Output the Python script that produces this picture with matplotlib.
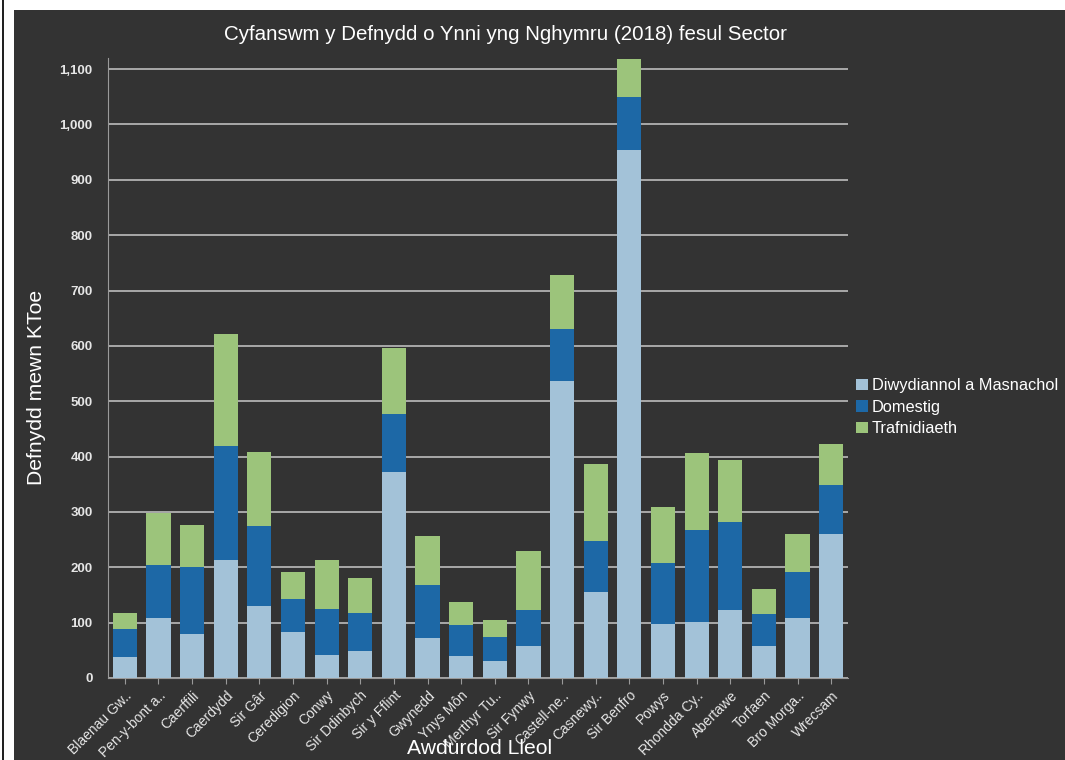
import matplotlib
matplotlib.use("Agg")
from matplotlib import pyplot as plt
from matplotlib.patches import Rectangle
from matplotlib.ticker import FuncFormatter, MultipleLocator

# Awdurdodau lleol (x-axis labels, truncated as in the original)
areas = ["Blaenau Gw..", "Pen-y-bont a..", "Caerffili", "Caerdydd", "Sir Gâr",
         "Ceredigion", "Conwy", "Sir Ddinbych", "Sir y Fflint", "Gwynedd",
         "Ynys Môn", "Merthyr Tu..", "Sir Fynwy", "Castell-ne..", "Casnewy..",
         "Sir Benfro", "Powys", "Rhondda Cy..", "Abertawe", "Torfaen",
         "Bro Morga..", "Wrecsam"]

# KToe per sector
diwydiannol = [38, 108, 79, 213, 130, 84, 41, 49, 373, 72, 39, 31, 57, 536, 155,
               954, 98, 102, 122, 58, 108, 260]
domestig = [51, 96, 121, 207, 144, 58, 84, 69, 104, 96, 56, 43, 66, 95, 92,
            96, 109, 165, 160, 58, 84, 89]
trafnidiaeth = [28, 94, 76, 202, 135, 50, 89, 63, 119, 88, 42, 31, 107, 97, 140,
                68, 102, 140, 111, 45, 69, 73]

series_names = ["Diwydiannol a Masnachol", "Domestig", "Trafnidiaeth"]
colours = ["#a3c2d8", "#1d68a6", "#9cc47b"]

bg = "#333333"
fg = "#e6e6e6"

plt.rcParams['font.family'] = ['Liberation Sans', 'DejaVu Sans']

fig = plt.figure(figsize=(10.65, 7.6), dpi=100, facecolor="white")
# dark panel behind the chart
fig.patches.append(Rectangle((14 / 1065, 0), 1, 1 - 10 / 760, transform=fig.transFigure,
                             facecolor=bg, edgecolor="none", zorder=-10))
fig.patches.append(Rectangle((2 / 1065, 0), 1.5 / 1065, 1, transform=fig.transFigure,
                             facecolor="#222222", edgecolor="none", zorder=-10))

ax = fig.add_axes([108 / 1065, (760 - 678) / 760, (848 - 108) / 1065, (678 - 58) / 760])
ax.set_facecolor(bg)

x = range(len(areas))
bottom2 = [a for a in diwydiannol]
bottom3 = [a + b for a, b in zip(diwydiannol, domestig)]
ax.bar(x, diwydiannol, width=0.72, color=colours[0], label=series_names[0], zorder=3)
ax.bar(x, domestig, width=0.72, bottom=bottom2, color=colours[1], label=series_names[1], zorder=3)
ax.bar(x, trafnidiaeth, width=0.72, bottom=bottom3, color=colours[2], label=series_names[2], zorder=3)

ax.set_xlim(-0.5, len(areas) - 0.5)
ax.set_ylim(0, 1120)
ax.yaxis.set_major_locator(MultipleLocator(100))
ax.yaxis.set_major_formatter(FuncFormatter(lambda v, p: f"{int(v):,}"))
ax.grid(axis="y", color="#c8c8c8", linewidth=1.1, zorder=0)

for s in ["top", "right"]:
    ax.spines[s].set_visible(False)
for s in ["left", "bottom"]:
    ax.spines[s].set_color("#9a9a9a")

ax.set_xticks(list(x))
ax.set_xticklabels(areas, rotation=45, ha="right", rotation_mode="anchor",
                   fontsize=10, color=fg)
ax.tick_params(axis="x", colors="#9a9a9a", length=4, labelcolor=fg)
ax.tick_params(axis="y", length=0, labelsize=9.5, labelcolor=fg, pad=11)
for t in ax.get_yticklabels():
    t.set_fontweight("semibold")

fig.text(506 / 1065, 1 - 35 / 760, "Cyfanswm y Defnydd o Ynni yng Nghymru (2018) fesul Sector",
         ha="center", va="center", fontsize=14.8, color="white")
fig.text(37 / 1065, 1 - 387 / 760, "Defnydd mewn KToe", rotation=90,
         ha="center", va="center", fontsize=15.2, color="white")
fig.text(480 / 1065, 1 - 748 / 760, "Awdurdod Lleol",
         ha="center", va="center", fontsize=15.2, color="white")

leg = ax.legend(loc="center left", bbox_to_anchor=(1.0, 0.437), frameon=False,
                fontsize=11.8, handlelength=0.7, handleheight=0.7, handletextpad=0.25,
                labelspacing=0.4, borderaxespad=0.1)
for t in leg.get_texts():
    t.set_color("white")

fig.savefig("out.png", dpi=100, facecolor=fig.get_facecolor())
